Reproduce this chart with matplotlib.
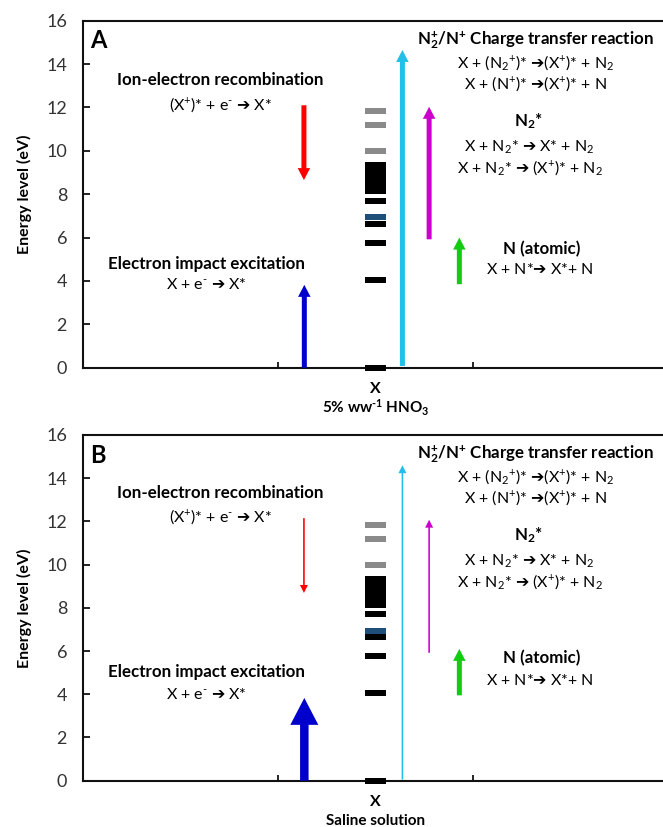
import matplotlib
matplotlib.use("Agg")
import matplotlib.pyplot as plt
import matplotlib.transforms as mtransforms

plt.rcParams['font.family'] = ['Lato', 'DejaVu Sans']
plt.rcParams['mathtext.default'] = 'regular'
plt.rcParams['mathtext.fontset'] = 'custom'
plt.rcParams['mathtext.sf'] = 'DejaVu Sans'
plt.rcParams['mathtext.rm'] = 'Lato'
plt.rcParams['mathtext.bf'] = 'Lato:bold'
plt.rcParams['mathtext.it'] = 'Lato:italic'

AR = "$\\mathsf{\u2794}$"
HY = "\u2010"

# ---------------- data ----------------
energy_ticks = [0, 2, 4, 6, 8, 10, 12, 14, 16]
category_label = "X"
sample_labels = ["5% ww$^{" + HY + "1}$ HNO$_3$", "Saline solution"]
panel_letters = ["A", "B"]

# energy levels of X (eV)
levels_black = [0.0, 4.04, 5.77, 6.63, 7.70, 8.15, 8.30, 8.45, 8.60, 8.75, 8.90, 9.05, 9.20, 9.35]
levels_blue = [6.93]
levels_gray = [9.97, 11.20, 11.85]

# arrows: red (recombination), blue (electron impact), cyan (charge transfer), magenta (N2*), green (N)
arrow_names = ["recomb", "impact", "charge", "n2", "natomic"]
arrow_start_A = [12.10, 0.00, 0.08, 5.92, 3.85]
arrow_end_A = [8.65, 3.82, 14.65, 12.03, 6.00]
arrow_start_B = [12.15, 0.00, 0.05, 5.92, 3.95]
arrow_end_B = [8.69, 3.83, 14.60, 12.08, 6.10]

# annotation texts
txt_recomb = ["Ion-electron recombination", "(X$^{+}$)* + e$^{" + HY + "}$ " + AR + " X*"]
txt_impact = ["Electron impact excitation", "X + e$^{" + HY + "}$ " + AR + " X*"]
txt_charge = [r"N$_2^{+}$/N$^{+}$ Charge transfer reaction",
              "X + (N$_2$$^{+}$)* " + AR + "(X$^{+}$)* + N$_2$",
              "X + (N$^{+}$)* " + AR + "(X$^{+}$)* + N"]
txt_n2 = [r"N$_2$*", "X + N$_2$* " + AR + " X* + N$_2$",
          "X + N$_2$* " + AR + " (X$^{+}$)* + N$_2$"]
txt_natomic = ["N (atomic)", "X + N*" + AR + " X*+ N"]

# ---------------- style ----------------
W, H = 663, 827
PXX = 195.0   # px per x unit
PXY = 21.69   # px per eV

arrow_x = {"recomb": 1.133, "impact": 1.135, "charge": 1.638, "n2": 1.775, "natomic": 1.93}
arrow_colors = {"recomb": "#FF0000", "impact": "#0000CC", "charge": "#22BFE8",
                "n2": "#CC00CC", "natomic": "#11CC11"}
# (shaft px, head width px, head length px)
std = (5.0, 12.5, 12.0)
thin = (1.6, 8.0, 8.0)
arrow_style_A = {k: std for k in arrow_names}
arrow_style_B = {"recomb": thin, "impact": (8.5, 28.0, 27.0), "charge": thin,
                 "n2": thin, "natomic": std}

fig = plt.figure(figsize=(W / 100, H / 100), dpi=100)

panels = [
    dict(bottom_px=367.7, top_px=20.7, start=arrow_start_A, end=arrow_end_A,
         style=arrow_style_A, dy_left=(13.27, 12.12, 4.79, 3.82), dy_natomic=(5.48, 4.51)),
    dict(bottom_px=780.7, top_px=435.0, start=arrow_start_B, end=arrow_end_B,
         style=arrow_style_B, dy_left=(13.30, 12.22, 5.04, 4.00), dy_natomic=(5.68, 4.66)),
]

bar_w = 21.0 / PXX
bar_h = 6.0 / PXY

for i, p in enumerate(panels):
    ax = fig.add_axes([83 / W, 1 - p["bottom_px"] / H, 585 / W,
                       (p["bottom_px"] - p["top_px"]) / H])
    ax.set_xlim(0, 3)
    ax.set_ylim(0, 16)
    for s in ["left", "bottom", "top"]:
        ax.spines[s].set_linewidth(1.5)
        ax.spines[s].set_color("#111111")
    ax.spines["right"].set_visible(False)

    ax.set_yticks(energy_ticks)
    ax.set_yticklabels([str(t) for t in energy_ticks])
    ax.tick_params(axis="y", direction="in", length=5, width=1.2, pad=11.5,
                   labelsize=13, labelcolor="#333333")
    ax.set_xticks([1.5])
    ax.set_xticklabels([category_label], fontweight="bold", fontsize=11.5)
    ax.set_xticks([1.0, 2.0], minor=True)
    ax.tick_params(axis="x", which="major", length=0, pad=10)
    ax.tick_params(axis="x", which="minor", direction="in", length=4, width=1.2)

    ax.set_ylabel("Energy level (eV)", fontweight="bold", fontsize=11.5)
    ax.yaxis.set_label_coords(-0.087, 0.5)

    trans = mtransforms.blended_transform_factory(ax.transData, ax.transAxes)
    ax.text(1.5, -(40.5 / (p["bottom_px"] - p["top_px"])), sample_labels[i],
            transform=trans, ha="center", va="center", fontsize=11, fontweight="bold")

    ax.text(0.012, 0.975, panel_letters[i], transform=ax.transAxes, ha="left", va="top",
            fontsize=17, fontweight="bold")

    # energy levels
    for lv in levels_black:
        ax.bar(1.5, bar_h, bottom=lv - bar_h / 2, width=bar_w, color="black",
               linewidth=0, clip_on=False, zorder=3)
    for lv in levels_blue:
        ax.bar(1.5, bar_h, bottom=lv - bar_h / 2, width=bar_w, color="#1F4E79",
               linewidth=0, zorder=3)
    for lv in levels_gray:
        ax.bar(1.5, bar_h, bottom=lv - bar_h / 2, width=bar_w, color="#8A8A8A",
               linewidth=0, zorder=3)

    # arrows
    for name, y0, y1 in zip(arrow_names, p["start"], p["end"]):
        sw, hw, hl = p["style"][name]
        ax.arrow(arrow_x[name], y0, 0, y1 - y0, width=sw / PXX, head_width=hw / PXX,
                 head_length=hl / PXY, length_includes_head=True,
                 color=arrow_colors[name], linewidth=0, zorder=4)

    fs_t = 12.2
    fs_e = 11.5
    r1, r2, e1, e2 = p["dy_left"]
    ax.text(0.705, r1, txt_recomb[0], ha="center", va="center", fontsize=fs_t, fontweight="bold")
    ax.text(0.705, r2, txt_recomb[1], ha="center", va="center", fontsize=fs_e)
    ax.text(0.635, e1, txt_impact[0], ha="center", va="center", fontsize=fs_t, fontweight="bold")
    ax.text(0.635, e2, txt_impact[1], ha="center", va="center", fontsize=fs_e)

    ax.text(2.32, 15.12, txt_charge[0], ha="center", va="center", fontsize=fs_t, fontweight="bold")
    ax.text(2.32, 14.06, txt_charge[1], ha="center", va="center", fontsize=fs_e)
    ax.text(2.32, 13.11, txt_charge[2], ha="center", va="center", fontsize=fs_e)

    ax.text(2.285, 11.35, txt_n2[0], ha="center", va="center", fontsize=fs_t, fontweight="bold")
    ax.text(2.29, 10.17, txt_n2[1], ha="center", va="center", fontsize=fs_e)
    ax.text(2.29, 9.21, txt_n2[2], ha="center", va="center", fontsize=fs_e)

    n1, n2 = p["dy_natomic"]
    ax.text(2.35, n1, txt_natomic[0], ha="center", va="center", fontsize=fs_t, fontweight="bold")
    ax.text(2.345, n2, txt_natomic[1], ha="center", va="center", fontsize=fs_e)

fig.savefig("out.png", dpi=100)
